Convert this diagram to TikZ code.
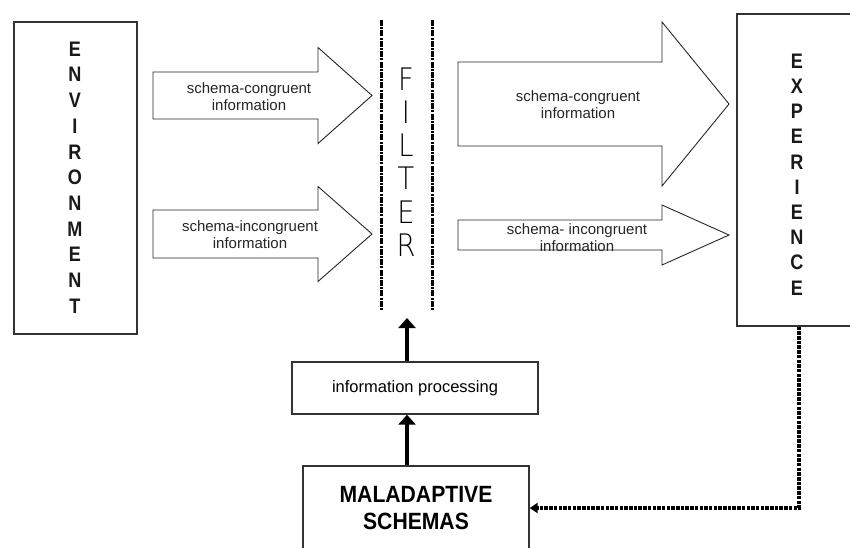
\documentclass[tikz,border=0pt]{standalone}
\usepackage{fontspec}
\setmainfont{Liberation Sans}
\newfontfamily\boldnarrow[FakeStretch=0.86]{Liberation Sans Bold}
\newfontfamily\boldtitle[FakeStretch=0.9]{Liberation Sans Bold}
\newfontfamily\lightsans[FakeStretch=0.88]{DejaVu Sans ExtraLight}
\usetikzlibrary{arrows.meta}

% outline block arrow: left x, head base x, tip x, middle y, half shaft, half head
\newcommand\blockarrow[6]{%
  \draw[bigarrow] (#1,#4-#5) -- (#2,#4-#5) -- (#2,#4-#6) -- (#3,#4)
    -- (#2,#4+#6) -- (#2,#4+#5) -- (#1,#4+#5) -- cycle;}

\begin{document}
\begin{tikzpicture}[x=1pt,y=-1pt,
  box/.style={draw=black!80, line width=1.3pt, inner sep=0pt},
  bigarrow/.style={draw=black!85, line width=0.9pt, fill=white, line join=miter},
  arrowtext/.style={font=\fontsize{15}{17}\selectfont, align=center, text=black!85, inner sep=0pt},
  letter/.style={font=\boldnarrow\fontsize{21}{21}\selectfont, inner sep=0pt, text=black!90},
  filterletter/.style={font=\lightsans\fontsize{31}{31}\selectfont, inner sep=0pt},
  filterline/.style={line width=3pt, dash pattern=on 6pt off 1.2pt on 2pt off 1.2pt},
  uparrow/.style={line width=4pt, -{Triangle[length=10pt,width=17pt]}},
  feedback/.style={line width=3.5pt, dash pattern=on 3.5pt off 1.2pt, -{Triangle[length=8pt,width=10pt]}},
]
\useasboundingbox (0,0) rectangle (850,547);
\clip (0,0) rectangle (850,547);

% ENVIRONMENT column
\node[box, minimum width=123pt, minimum height=312pt] (env) at (75.5,178) {};
\foreach \c [count=\i from 0] in {E,N,V,I,R,O,N,M,E,N,T}
  \node[letter] (env-\i) at (75,49+25.7*\i) {\c};

% EXPERIENCE column (right side runs off the page)
\node[box, minimum width=124pt, minimum height=312pt] (exp) at (799,170) {};
\foreach \c [count=\i from 0] in {E,X,P,E,R,I,E,N,C,E}
  \node[letter] (exp-\i) at (797,61+25.2*\i) {\c};

% filter
\draw[filterline] (381,20) -- (381,310);
\draw[filterline] (432,20) -- (432,310);
\foreach \c [count=\i from 0] in {F,I,L,T,E,R}
  \node[filterletter] (fil-\i) at (406,79+33.2*\i) {\c};

% information flows
\blockarrow{153}{318}{372}{95.5}{23.5}{48}
\node[arrowtext] (t1) at (249,96.5) {schema-congruent\\information};
\blockarrow{153}{318}{372}{234}{24}{47.5}
\node[arrowtext] (t2) at (250,235) {schema-incongruent\\information};
\blockarrow{458}{662}{729}{104}{42}{82}
\node[arrowtext] (t3) at (578,104.5) {schema-congruent\\information};
\blockarrow{458}{662}{729}{235}{15}{30}
\node[arrowtext] (t4) at (577,238) {schema- incongruent\\information};

% lower boxes
\node[box, minimum width=246pt, minimum height=52pt, font=\fontsize{16.5}{16.5}\selectfont] (info) at (415,388) {information processing};
\node[box, minimum width=226pt, minimum height=84pt, align=center, font=\boldtitle\fontsize{23.5}{27}\selectfont] (mal) at (416,508) {MALADAPTIVE\\SCHEMAS};

\coordinate (fa) at (407,318);
\draw[uparrow] (info.north -| fa) -- (fa);
\draw[uparrow] (mal.north -| fa) -- (info.south -| fa);

% feedback loop
\draw[feedback] (exp.south) -- (exp.south |- mal.east) -- (mal.east);
\end{tikzpicture}
\end{document}
